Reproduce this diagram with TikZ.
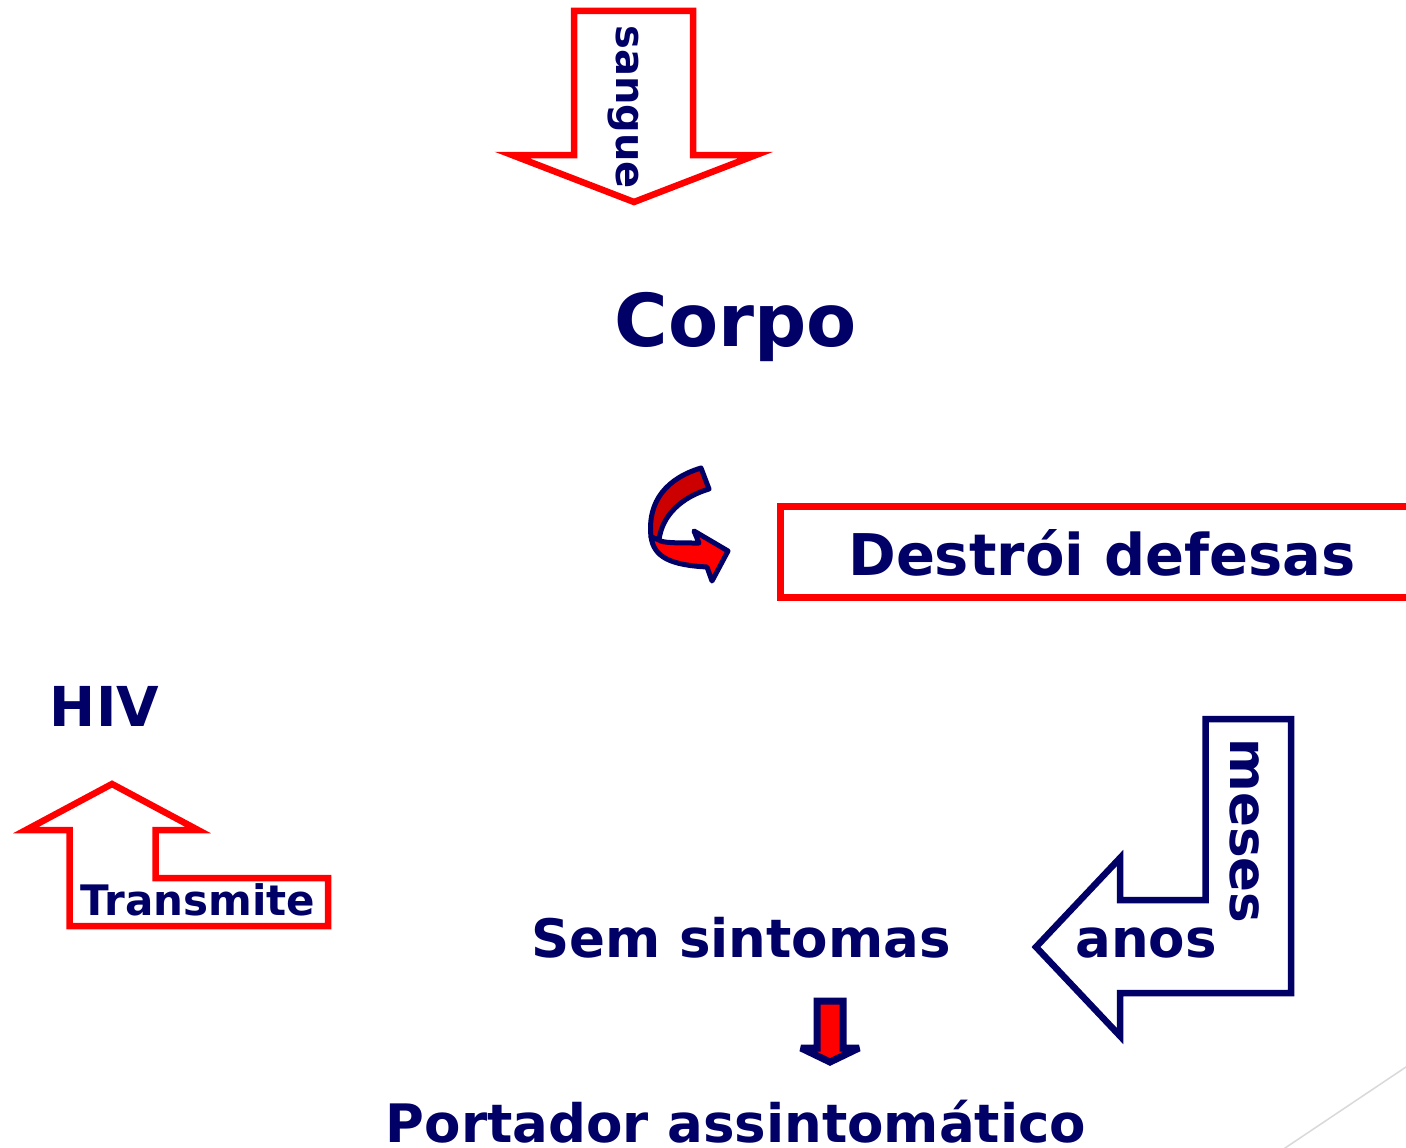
\documentclass[tikz,border=0pt]{standalone}
\usepackage{fontspec}
\setmainfont{DejaVu Sans}
\usepackage{tikz}
\definecolor{navy}{RGB}{0,0,102}
\definecolor{darkred}{RGB}{204,0,0}
\newcommand{\txtsize}[1]{\fontsize{#1}{#1}\selectfont\bfseries}

\begin{document}
\begin{tikzpicture}[x=1pt,y=1pt]
\tikzstyle{every node}+=[inner sep=0pt, text=navy]
\tikzstyle{redline}=[red, line width=6.5pt, line join=miter]
\tikzstyle{navyline}=[navy, line width=6.5pt, line join=miter]
\clip (0,0) rectangle (1406,-1148);
\fill [white] (0,0) rectangle (1406,-1148);
\draw [redline] (574,-11) -- (693,-11) -- (693,-155) -- (756,-155) -- (634,-202) -- (512,-155) -- (574,-155) -- cycle;
\node (sangue) [rotate=-90, anchor=base] at (616,-107) {\txtsize{40}sangue};
\node (corpo) [anchor=base] at (736,-346) {\txtsize{73}Corpo};
\draw [navy, fill=darkred, line width=5pt, line join=round] (701,-468) .. controls (668,-478) and (647,-500) .. (651,-537) -- (659,-540) .. controls (662,-515) and (682,-497) .. (709,-489) -- cycle;
\draw [navy, fill=red, line width=5pt, line join=round] (651,-537) .. controls (654,-557) and (670,-565) .. (707,-567) -- (712,-581) -- (728,-551) -- (694,-531) -- (699,-543) .. controls (677,-543) and (662,-543) .. (659,-540) -- cycle;
\draw [redline, line width=7pt] (1420,-506.5) -- (780,-506.5) -- (780,-597.5) -- (1420,-597.5);
\node (defesas) [anchor=base] at (1102,-575) {\txtsize{57.5}Destrói defesas};
\node (hiv) [anchor=base] at (104.5,-726) {\txtsize{55}HIV};
\draw [redline] (112,-784) -- (198,-830) -- (155.5,-830) -- (155.5,-878) -- (328,-878) -- (328,-926) -- (69.5,-926) -- (69.5,-830) -- (26,-830) -- cycle;
\node (transmite) [anchor=base] at (198,-915) {\txtsize{42}Transmite};
\draw [navyline] (1205.5,-719) -- (1291,-719) -- (1291,-993) -- (1120,-993) -- (1120,-1036) -- (1036,-947) -- (1120,-858) -- (1120,-900) -- (1205.5,-900) -- cycle;
\node (meses) [rotate=-90, anchor=base] at (1230,-831) {\txtsize{51.5}meses};
\node (anos) [anchor=base] at (1146,-957) {\txtsize{53}anos};
\node (semsint) [anchor=base] at (741,-957) {\txtsize{53}Sem sintomas};
\draw [navy, fill=red, line width=7pt, line join=miter, miter limit=3] (817,-1001) -- (843,-1001) -- (843,-1048) -- (859,-1048) -- (830,-1062) -- (801,-1048) -- (817,-1048) -- cycle;
\node (portador) [anchor=base] at (736,-1142) {\txtsize{53}Portador assintomático};
\draw [black!15, line width=1.5pt] (1280,-1151.4) -- (1410,-1064.3);
\end{tikzpicture}
\end{document}
